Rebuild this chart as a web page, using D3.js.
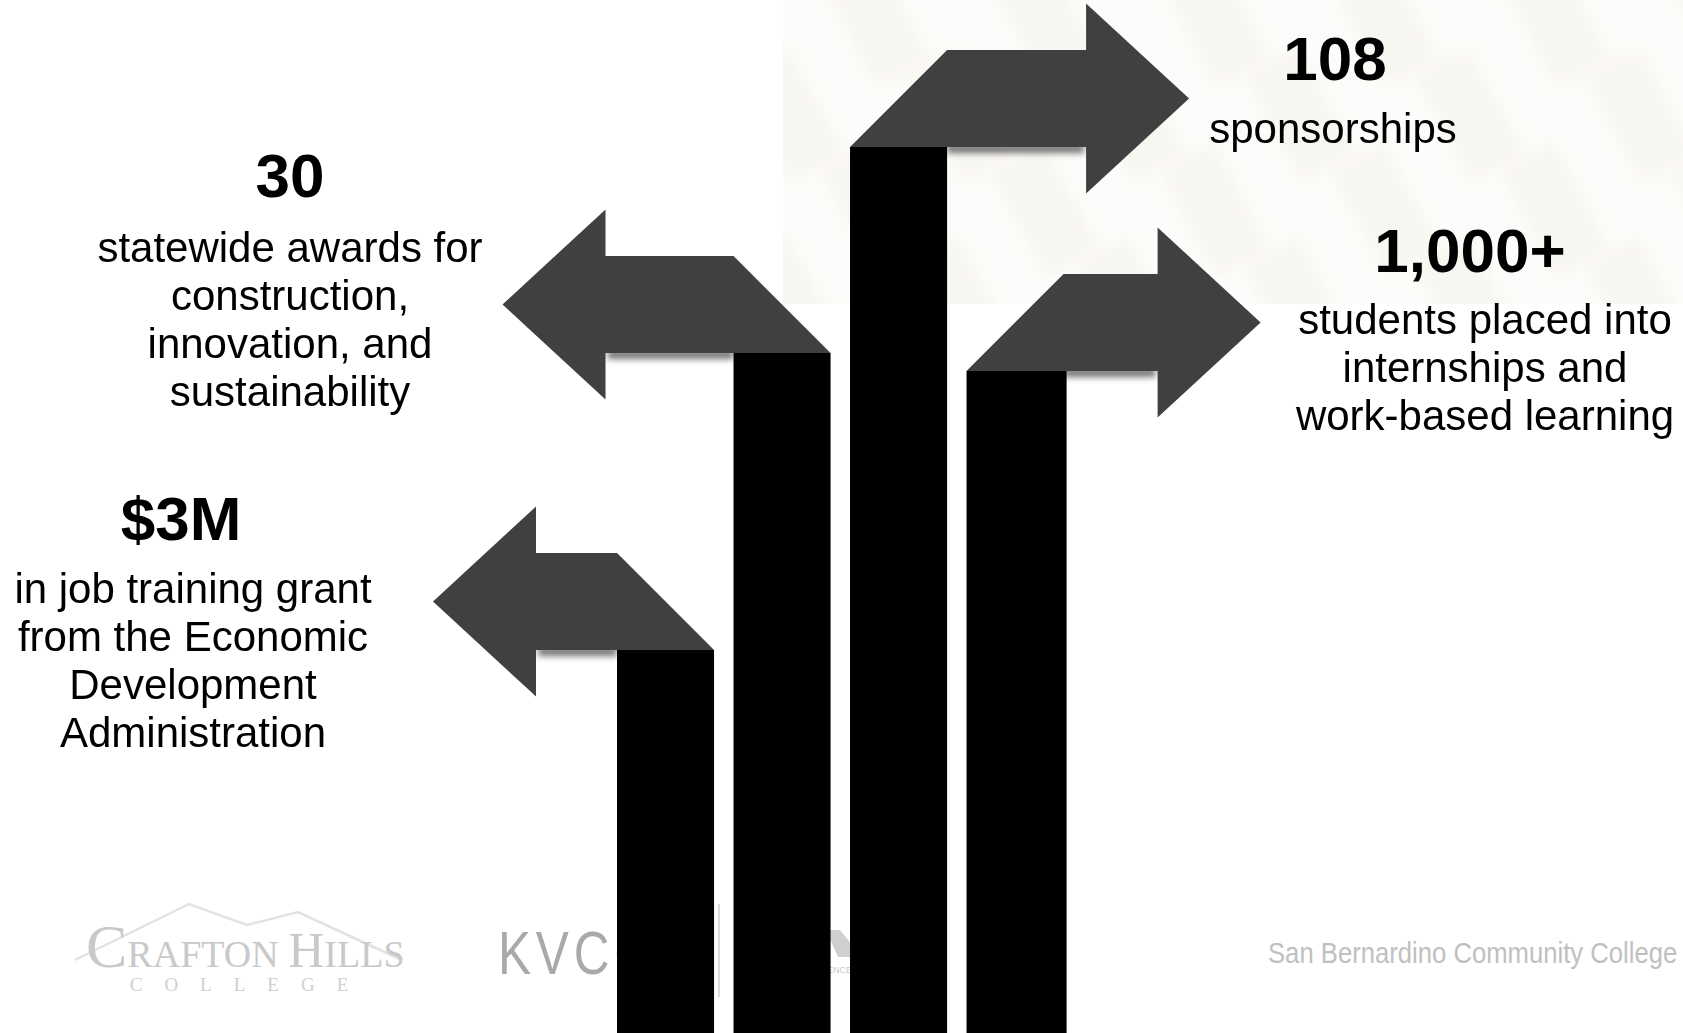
<!DOCTYPE html>
<html>
<head>
<meta charset="utf-8">
<script src="https://cdn.jsdelivr.net/npm/d3@7"></script>
<style>
  body { margin: 0; background: #fff; }
  svg { display: block; font-family: "Liberation Sans", Arial, sans-serif; }
</style>
</head>
<body>
<script>
var width = 1683, height = 1033;

// data
var stats = ["$3M", "30", "108", "1,000+"];
var levels = [3.83, 6.8, 8.86, 6.62];          // bar height, 0-10 units
var directions = ["left", "left", "right", "right"];
var captions = [
  ["in job training grant", "from the Economic", "Development", "Administration"],
  ["statewide awards for", "construction,", "innovation, and", "sustainability"],
  ["sponsorships"],
  ["students placed into", "internships and", "work-based learning"]
];

// arrow / label layout
var shaftLen = [81, 128, 139, 94];
var headLen = 103, headHalf = 95;
var labelPos = [
  {nx: 181, ny: 540, cx: 193, cy: 603},
  {nx: 290, ny: 197, cx: 290, cy: 262},
  {nx: 1335, ny: 80, cx: 1333, cy: 143},
  {nx: 1470, ny: 272, cx: 1485, cy: 334}
];

var svg = d3.select("body").append("svg")
  .attr("width", width)
  .attr("height", height);

var defs = svg.append("defs");
defs.append("filter").attr("id", "soft")
  .attr("x", "-10%").attr("y", "-200%").attr("width", "120%").attr("height", "500%")
  .append("feGaussianBlur").attr("stdDeviation", 3);
defs.append("filter").attr("id", "haze")
  .append("feGaussianBlur").attr("stdDeviation", 6);
defs.append("clipPath").attr("id", "bgclip")
  .append("rect").attr("x", 783).attr("y", 0).attr("width", 900).attr("height", 304);

// faint texture top right
var bg = svg.append("g").attr("clip-path", "url(#bgclip)");
bg.append("rect").attr("x", 783).attr("y", 0).attr("width", 900).attr("height", 304)
  .attr("fill", "#fdfcfa");
var tex = bg.append("g").attr("filter", "url(#haze)");
d3.range(0, 12).forEach(function(i){
  d3.range(0, 4).forEach(function(j){
    if ((i + j) % 2 == 0) return;
    tex.append("rect")
      .attr("x", 760 + i * 85)
      .attr("y", -40 + j * 95)
      .attr("width", 60)
      .attr("height", 120)
      .attr("fill", "#f8f6f0")
      .attr("transform", "rotate(-28," + (790 + i * 85) + "," + (20 + j * 95) + ")");
  });
});

// logos (faint, behind bars)
var logo = svg.append("g");
logo.append("polyline")
  .attr("points", "75,960 189,904 247,925 298,912 367,944 402,960")
  .attr("fill", "none").attr("stroke", "#e2e2e2").attr("stroke-width", 2.5);
var ch = logo.append("text")
  .attr("x", 86).attr("y", 967)
  .style("font-family", "'Liberation Serif', 'DejaVu Serif', serif")
  .style("fill", "#c9c9c9");
ch.append("tspan").style("font-size", "62px").text("C");
ch.append("tspan").style("font-size", "38px").text("RAFTON ");
ch.append("tspan").style("font-size", "50px").text("H");
ch.append("tspan").style("font-size", "38px").text("ILLS");
logo.append("text")
  .attr("x", 250).attr("y", 991)
  .attr("text-anchor", "middle")
  .style("font-family", "'Liberation Serif', 'DejaVu Serif', serif")
  .style("font-size", "19px")
  .style("letter-spacing", "22px")
  .style("fill", "#cfcfcf")
  .text("COLLEGE");
logo.append("text")
  .attr("transform", "translate(498,974) scale(0.8,1)")
  .style("font-size", "62px")
  .style("fill", "#a9a9a9")
  .style("letter-spacing", "6px")
  .text("KVCCD");
logo.append("line")
  .attr("x1", 719).attr("x2", 719).attr("y1", 904).attr("y2", 997)
  .attr("stroke", "#d0d0d0").attr("stroke-width", 1.5);
logo.append("path")
  .attr("d", "M826,930 L840,930 L852,945 L852,957 L838,957 Z")
  .attr("fill", "#cfcfcf");
logo.append("text")
  .attr("x", 852).attr("y", 973)
  .attr("text-anchor", "end")
  .style("font-size", "9px")
  .style("fill", "#c8c8c8")
  .text("EXCELLENCE");
logo.append("text")
  .attr("transform", "translate(1268,963) scale(0.885,1)")
  .style("font-size", "29px")
  .style("fill", "#c0c0c0")
  .text("San Bernardino Community College");

// scales
var x = d3.scaleBand()
  .domain(stats)
  .range([617, 1063.6])
  .paddingInner(0.167)
  .paddingOuter(0);
var y = d3.scaleLinear()
  .domain([0, 10])
  .range([height, 33]);

var bw = x.bandwidth();

var arrowPts = function(d, i){
  var x0 = x(d), x1 = x0 + bw, yT = y(levels[i]), h = bw;
  var yc = yT - h / 2, s = shaftLen[i];
  if (directions[i] == "left") {
    var b = x0 - s;
    return [[x1, yT], [x0, yT - h], [b, yT - h], [b, yc - headHalf],
            [b - headLen, yc], [b, yc + headHalf], [b, yT]];
  }
  var b2 = x1 + s;
  return [[x0, yT], [x1, yT - h], [b2, yT - h], [b2, yc - headHalf],
          [b2 + headLen, yc], [b2, yc + headHalf], [b2, yT]];
};

// shadows under the shafts
svg.selectAll(".shadow").data(stats).enter().append("rect")
  .attr("class", "shadow")
  .attr("x", function(d, i){ return directions[i] == "left" ? x(d) - shaftLen[i] + 2 : x(d) + bw; })
  .attr("y", function(d, i){ return y(levels[i]) - 3; })
  .attr("width", function(d, i){ return shaftLen[i] - 2; })
  .attr("height", 9)
  .attr("fill", "#444")
  .attr("opacity", 0.75)
  .attr("filter", "url(#soft)");

svg.selectAll(".arrow").data(stats).enter().append("polygon")
  .attr("class", "arrow")
  .attr("points", function(d, i){ return arrowPts(d, i).join(" "); })
  .attr("fill", "#404040");

svg.selectAll(".bar").data(stats).enter().append("rect")
  .attr("class", "bar")
  .attr("x", function(d){ return x(d); })
  .attr("y", function(d, i){ return y(levels[i]); })
  .attr("width", function(d, i){ return i == 3 ? bw + 3 : bw; })
  .attr("height", function(d, i){ return y(0) - y(levels[i]); })
  .attr("fill", "#000");

// labels
stats.forEach(function(d, i){
  var p = labelPos[i];
  svg.append("text")
    .attr("x", p.nx).attr("y", p.ny)
    .attr("text-anchor", "middle")
    .style("font-size", "62px")
    .style("font-weight", "bold")
    .style("fill", "#000")
    .text(d);
  captions[i].forEach(function(line, k){
    svg.append("text")
      .attr("x", p.cx).attr("y", p.cy + k * 48)
      .attr("text-anchor", "middle")
      .style("font-size", "42px")
      .style("fill", "#000")
      .text(line);
  });
});
</script>
</body>
</html>
